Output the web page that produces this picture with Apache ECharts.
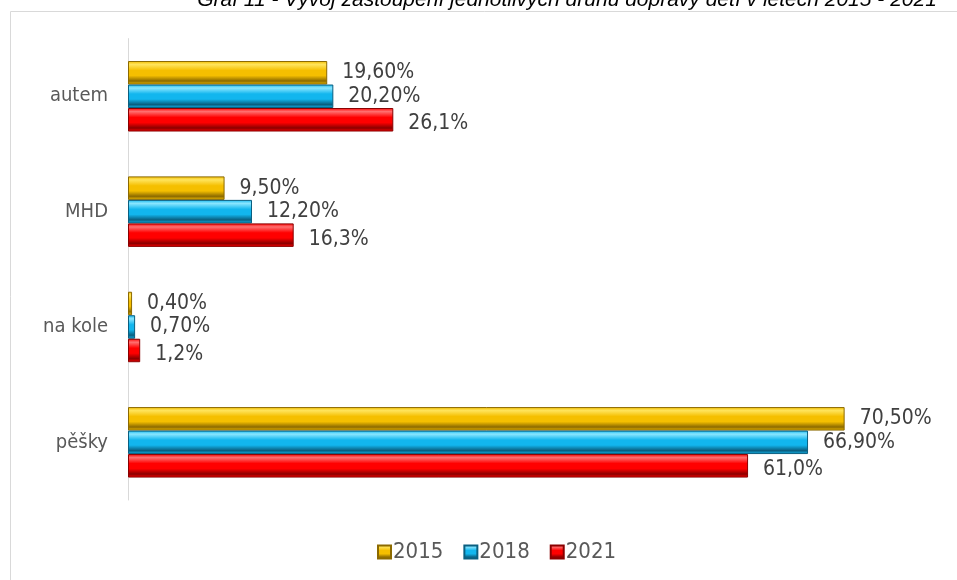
<!DOCTYPE html>
<html>
<head>
<meta charset="utf-8">
<script src="https://cdn.jsdelivr.net/npm/echarts@6/dist/echarts.min.js"></script>
<style>
  html, body { margin: 0; padding: 0; background: #fff; }
  #chart { width: 957px; height: 580px; }
</style>
</head>
<body>
<div id="chart"></div>
<script>
// kategorie shora dolu
var categories = ['autem', 'MHD', 'na kole', 'pěšky']
var years = ['2015', '2018', '2021']
var values2015 = [19.6, 9.5, 0.4, 70.5]
var values2018 = [20.2, 12.2, 0.7, 66.9]
var values2021 = [26.1, 16.3, 1.2, 61.0]
var decimals = [2, 2, 1]

var fontName = '"DejaVu Sans Condensed", "DejaVu Sans", sans-serif'

// barvy: svetla hrana, zaklad, tmava hrana
var palette = [
    ['#ffe45c', '#f5bf00', '#8c6a00'],
    ['#8ae6ff', '#12b6ee', '#0a5f80'],
    ['#ff7070', '#ff0000', '#8a0000']
]

function bevel(c) {
    return {
        type: 'linear', x: 0, y: 0, x2: 0, y2: 1,
        colorStops: [
            {offset: 0, color: c[1]},
            {offset: 0.15, color: c[0]},
            {offset: 0.4, color: c[1]},
            {offset: 0.62, color: c[1]},
            {offset: 0.85, color: c[2]},
            {offset: 1, color: c[1]}
        ]
    }
}

function makeSeries(i, data) {
    return {
        name: years[i],
        type: 'bar',
        data: data,
        barWidth: 23.5,
        barGap: '0%',
        itemStyle: {
            color: bevel(palette[i]),
            borderColor: palette[i][2],
            borderWidth: 1
        },
        label: {
            show: true,
            position: 'right',
            distance: 15,
            offset: [0, i == 2 ? 4 : 0],
            color: '#404040',
            fontFamily: fontName,
            fontSize: 21,
            formatter: function (p) {
                return p.value.toFixed(decimals[i]).replace('.', ',') + '%'
            }
        }
    }
}

var chart = echarts.init(document.getElementById('chart'))

var option = {
    animation: false,
    textStyle: {fontFamily: fontName},
    graphic: [
        {
            type: 'rect',
            shape: {x: 10.5, y: 11.5, width: 960, height: 600},
            style: {fill: 'none', stroke: '#d9d9d9', lineWidth: 1},
            silent: true
        },
        {
            type: 'text',
            style: {
                text: 'Graf 11 - Vývoj zastoupení jednotlivých druhů dopravy dětí v letech 2015 - 2021',
                x: 567, y: 11,
                align: 'center',
                verticalAlign: 'bottom',
                font: 'italic 21px "Liberation Sans", Arial, sans-serif',
                fill: '#000'
            },
            silent: true
        }
    ],
    legend: {
        data: years,
        left: 372,
        top: 536,
        icon: 'rect',
        itemWidth: 13,
        itemHeight: 13,
        itemGap: 20,
        textStyle: {color: '#595959', fontSize: 22, fontFamily: fontName, padding: [0, 0, 0, -3]}
    },
    grid: {
        left: 128,
        right: 15.8,
        top: 38.6,
        bottom: 80,
        containLabel: false
    },
    xAxis: {
        type: 'value',
        min: 0,
        max: 80,
        show: false
    },
    yAxis: {
        type: 'category',
        inverse: true,
        data: categories,
        axisLine: {lineStyle: {color: '#d9d9d9', width: 1}},
        axisTick: {show: false},
        axisLabel: {
            color: '#595959',
            fontSize: 20,
            fontFamily: fontName,
            margin: 20
        }
    },
    series: [
        makeSeries(0, values2015),
        makeSeries(1, values2018),
        makeSeries(2, values2021)
    ]
}

chart.setOption(option)
</script>
</body>
</html>
